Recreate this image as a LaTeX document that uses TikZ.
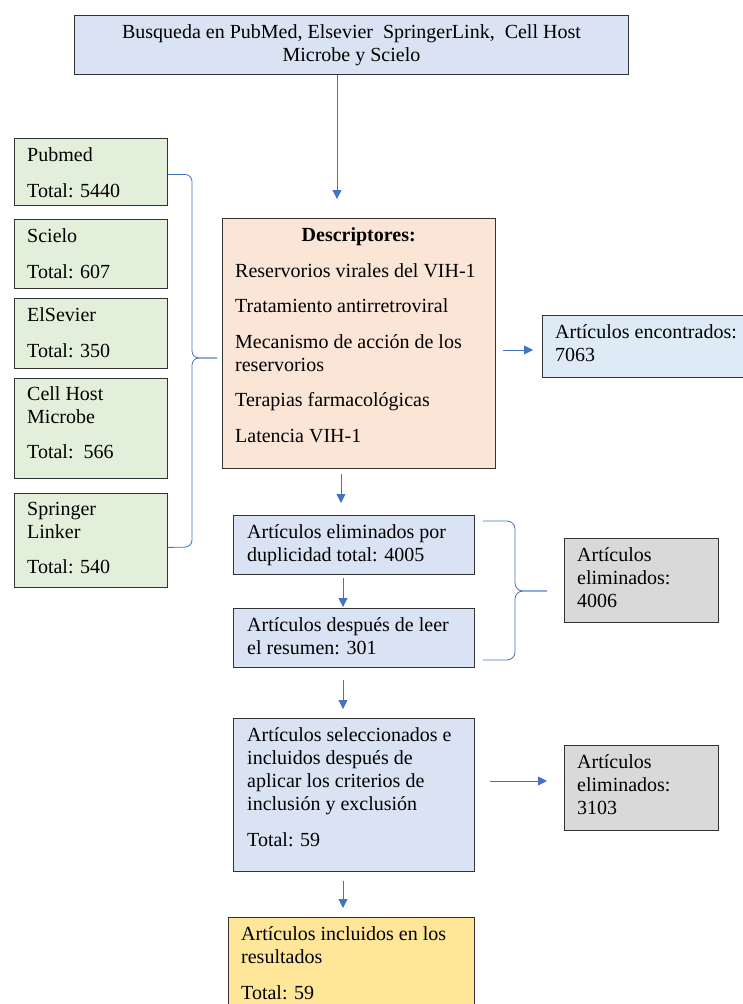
\documentclass[tikz,border=0pt]{standalone}
\usepackage{fontspec}
\setmainfont{Liberation Serif}
\usetikzlibrary{arrows.meta,positioning}
\definecolor{srcgreen}{HTML}{E2EFDA}
\definecolor{descpeach}{HTML}{FBE5D6}
\definecolor{flowblue}{HTML}{DAE3F3}
\definecolor{foundblue}{HTML}{DEEBF7}
\definecolor{elimgray}{HTML}{D9D9D9}
\definecolor{resultyellow}{HTML}{FFE699}
\definecolor{arrowblue}{HTML}{4472C4}

\begin{document}
\begin{tikzpicture}[
  x=1pt, y=-1pt,
  font=\fontsize{20}{23}\selectfont, >={Triangle[length=9pt,width=9pt]},
  box/.style={rectangle, draw=black!80, line width=0.9pt, anchor=north west, inner sep=0pt},
  srcbox/.style={box, fill=srcgreen, minimum width=153pt},
  flowbox/.style={box, fill=flowblue, minimum width=241pt},
  elimbox/.style={box, fill=elimgray, minimum width=154pt},
  txt/.style={inner sep=0pt, align=left},
  flow/.style={->, draw=arrowblue, line width=0.8pt},
  brace/.style={draw=arrowblue, line width=0.8pt, rounded corners=7pt}
]
\useasboundingbox (0,0) rectangle (743,1004);
\clip (0,0) rectangle (743,1004);

% search
\node[box, fill=flowblue, minimum width=554pt, minimum height=59pt, align=center] (search) at (74,15)
  {Busqueda en PubMed, Elsevier\ \ SpringerLink,\ \ Cell Host\\Microbe y Scielo};

% databases
\node[srcbox, minimum height=67pt] (pubmed) at (14,138) {};
\node[srcbox, minimum height=69pt] (scielo) at (14,219) {};
\node[srcbox, minimum height=70pt] (elsevier) at (14,298) {};
\node[srcbox, minimum height=100pt] (cellhost) at (14,378) {};
\node[srcbox, minimum height=94pt] (springer) at (14,493) {};
\node[txt, below right=7.4pt and 13pt of pubmed.north west] (pubmed-t) {\strut Pubmed\\[12.5pt]Total: 5440};
\node[txt, below right=7.4pt and 13pt of scielo.north west] (scielo-t) {\strut Scielo\\[12.5pt]Total: 607};
\node[txt, below right=7.4pt and 13pt of elsevier.north west] (elsevier-t) {\strut ElSevier\\[12.5pt]Total: 350};
\node[txt, below right=6pt and 13pt of cellhost.north west] (cellhost-t) {\strut Cell Host\\Microbe\\[12.5pt]Total:\ \ 566};
\node[txt, below right=6pt and 13pt of springer.north west] (springer-t) {\strut Springer\\Linker\\[12.5pt]Total: 540};

% descriptores
\node[box, fill=descpeach, minimum width=273pt, minimum height=250pt] (desc) at (222,218) {};
\node[txt, below right=7.4pt and 13pt of desc.north west] (desc-t) {\strut\makebox[247pt]{\bfseries Descriptores:}\\[12.5pt]
  Reservorios virales del VIH-1\\[12.5pt]
  Tratamiento antirretroviral\\[12.5pt]
  Mecanismo de acción de los\\reservorios\\[12.5pt]
  Terapias farmacológicas\\[12.5pt]
  Latencia VIH-1};

\node[box, fill=foundblue, minimum width=230pt, minimum height=62pt] (found) at (542,315) {};
\node[txt, below right=7pt and 13pt of found.north west] (found-t) {\strut Artículos encontrados:\\7063};

% filtering
\node[flowbox, minimum height=59pt] (dup) at (233,515) {};
\node[txt, below right=7.4pt and 14pt of dup.north west] (dup-t) {\strut Artículos eliminados por\\duplicidad total: 4005};
\node[flowbox, minimum height=59pt] (resumen) at (233,608) {};
\node[txt, below right=7.4pt and 14pt of resumen.north west] (resumen-t) {\strut Artículos después de leer\\el resumen: 301};
\node[elimbox, minimum height=84pt] (elim1) at (564,538) {};
\node[txt, below right=7.4pt and 13pt of elim1.north west] (elim1-t) {\strut Artículos\\eliminados:\\4006};

\node[flowbox, minimum height=153pt] (sel) at (233,718) {};
\node[txt, below right=7.4pt and 14pt of sel.north west] (sel-t) {\strut Artículos seleccionados e\\incluidos después de\\aplicar los criterios de\\inclusión y exclusión\\[12.5pt]Total: 59};
\node[elimbox, minimum height=85pt] (elim2) at (564,745) {};
\node[txt, below right=7.4pt and 13pt of elim2.north west] (elim2-t) {\strut Artículos\\eliminados:\\3103};

\node[box, fill=resultyellow, minimum width=246pt, minimum height=110pt] (result) at (228,917) {};
\node[txt, below right=7.4pt and 13pt of result.north west] (result-t) {\strut Artículos incluidos en los\\resultados\\[12.5pt]Total: 59};

% arrows
\coordinate (col1) at (337,0);
\coordinate (col2) at (341,0);
\coordinate (col3) at (343,0);
\coordinate (row1) at (0,350);
\coordinate (row2) at (0,781);
\draw[flow, shorten >=19pt] (search.south -| col1) -- (desc.north -| col1);
\draw[flow, shorten <=7pt, shorten >=9pt] (desc.east |- row1) -- (found.west |- row1);
\draw[flow, shorten <=5pt, shorten >=12pt] (desc.south -| col2) -- (dup.north -| col2);
\draw[flow, shorten <=3pt, shorten >=1pt] (dup.south -| col3) -- (resumen.north -| col3);
\draw[flow, shorten <=12pt, shorten >=9pt] (resumen.south -| col3) -- (sel.north -| col3);
\draw[flow, shorten <=15pt, shorten >=17pt] (sel.east |- row2) -- (elim2.west |- row2);
\draw[flow, shorten <=9pt, shorten >=9pt] (sel.south -| col3) -- (result.north -| col3);

% braces
\coordinate (lb-top) at ([yshift=-2.5pt]pubmed.east);
\coordinate (lb-bot) at ([yshift=-7pt]springer.east);
\coordinate (lb-tip) at (217,358);
\draw[brace] (lb-top) -| (192,358) -- (lb-tip);
\draw[brace] (lb-tip) -| (192,547) -- (lb-bot);
\coordinate (rb-top) at (483,521);
\coordinate (rb-bot) at (483,660);
\coordinate (rb-tip) at (547,591);
\draw[brace, rounded corners=8pt] (rb-top) -| (515,591) -- (rb-tip);
\draw[brace, rounded corners=8pt] (rb-tip) -| (515,660) -- (rb-bot);
\end{tikzpicture}
\end{document}
